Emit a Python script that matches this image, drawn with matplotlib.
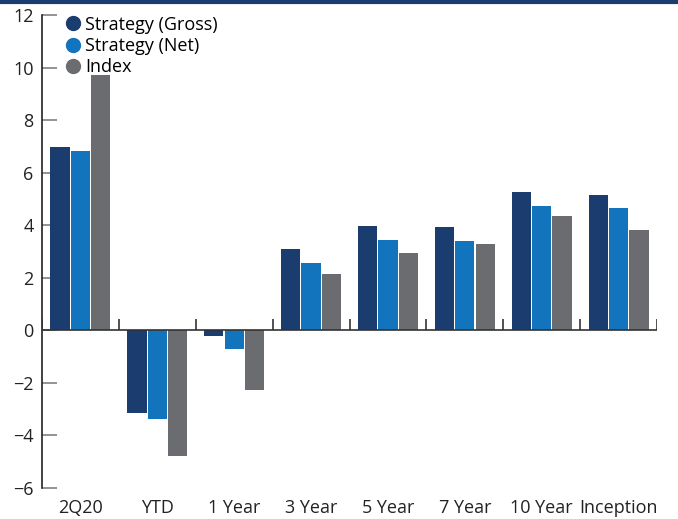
import matplotlib.pyplot as plt
from matplotlib.lines import Line2D
import numpy as np

plt.rcParams['font.family'] = ['Open Sans', 'DejaVu Sans']

categories = ["2Q20", "YTD", "1 Year", "3 Year", "5 Year", "7 Year", "10 Year", "Inception"]
gross = [6.96, -3.13, -0.20, 3.09, 3.97, 3.93, 5.26, 5.15]
net = [6.82, -3.36, -0.70, 2.56, 3.44, 3.40, 4.73, 4.65]
index = [9.7, -4.77, -2.26, 2.14, 2.94, 3.28, 4.35, 3.82]
series_names = ["Strategy (Gross)", "Strategy (Net)", "Index"]
colors = ["#1b3c6e", "#1174bc", "#6b6c70"]

fig = plt.figure(figsize=(6.78, 5.19), dpi=100)
ax = fig.add_axes([42 / 678, 1 - 488 / 519, 615 / 678, 473 / 519])

x = np.arange(len(categories))
width = 0.25
step = 0.265
for i, (vals, name, col) in enumerate(zip([gross, net, index], series_names, colors)):
    ax.bar(x + (i - 1) * step, vals, width, color=col, label=name, zorder=2)

ax.set_xlim(-0.5, len(categories) - 0.5)
ax.set_ylim(-6, 12)
ax.set_yticks(range(-6, 13, 2))
ax.tick_params(axis='y', direction='in', length=11, width=1.2, color='#808080',
               labelsize=13, labelcolor='#222222', pad=6)
ax.set_xticks(x)
ax.set_xticklabels(categories)
ax.tick_params(axis='x', length=0, labelsize=13, labelcolor='#222222', pad=8)

for s in ['top', 'right', 'bottom']:
    ax.spines[s].set_visible(False)
ax.spines['left'].set_color('#222222')
ax.spines['left'].set_linewidth(1.2)

# zero line with category separators
ax.axhline(0, color='#333333', lw=1.2, zorder=3)
ax.vlines(np.arange(len(categories) + 1) - 0.5, 0, 0.45, color='#333333', lw=1.2, zorder=3)

handles = [Line2D([], [], marker='o', ls='', markersize=10, color=c) for c in colors]
ax.legend(handles, series_names, loc='upper left', bbox_to_anchor=(0.012, 1.025),
          frameon=False, fontsize=13, handletextpad=0.1, labelspacing=0.18,
          handlelength=1.2, borderaxespad=0.3)

fig.add_artist(Line2D([0, 1], [0.997, 0.997], color='#1b3c6e', lw=3, transform=fig.transFigure))

fig.savefig("out.png", dpi=100)
